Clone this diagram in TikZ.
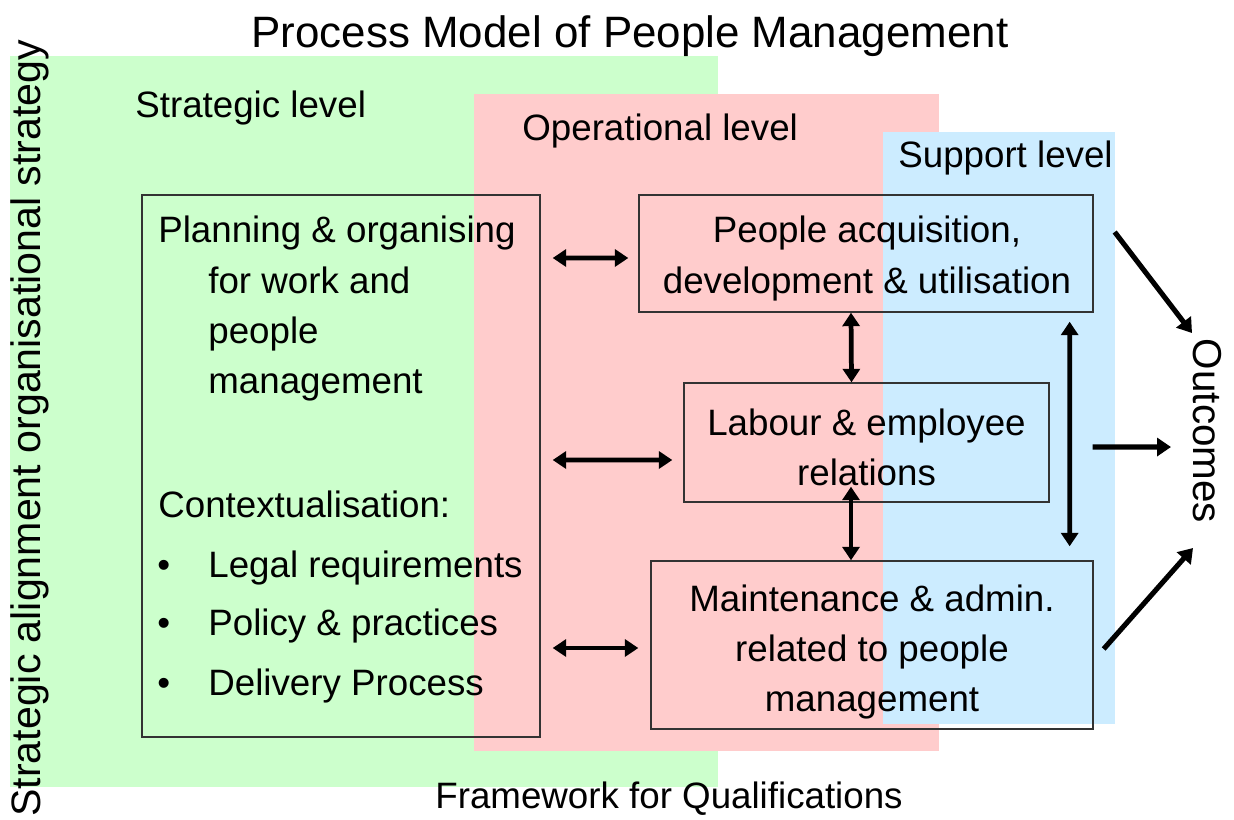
\documentclass[tikz,border=0pt]{standalone}
\usepackage{fontspec}
\setmainfont{Liberation Sans}
\usetikzlibrary{arrows.meta}
\definecolor{lvgreen}{HTML}{CCFFCC}
\definecolor{lvpink}{HTML}{FFCCCC}
\definecolor{lvblue}{HTML}{CCECFF}
\definecolor{boxline}{HTML}{333333}
\tikzset{
  lbl/.style={inner sep=0pt, anchor=base west, font=\fontsize{20.9}{28.5}\selectfont},
  procbox/.style={draw=boxline, line width=0.8pt, inner sep=0pt},
  boxtext/.style={align=center, inner sep=0pt, font=\fontsize{20.9}{28.5}\selectfont},
  dbl/.style={line width=2.7pt, {Triangle[length=0.27cm,width=0.34cm]}-{Triangle[length=0.27cm,width=0.34cm]}},
  sgl/.style={line width=2.9pt, -{Triangle[length=0.28cm,width=0.36cm]}}
}
\begin{document}
\begin{tikzpicture}[x=0.02cm,y=-0.02cm]
\useasboundingbox (0,0) rectangle (1234,819);
\fill[white] (0,0) rectangle (1234,819);
% level regions
\fill[lvgreen] (10,56) rectangle (718,787);
\fill[lvpink] (474,94) rectangle (939,751);
\fill[lvblue] (883,132) rectangle (1115,724);
% title and labels
\node[inner sep=0pt, anchor=base, font=\fontsize{25}{30}\selectfont] (title) at (630,47) {Process Model of People Management};
\node[lbl] (strat) at (135,117) {Strategic level};
\node[lbl] (oper) at (522,140) {Operational level};
\node[lbl] (supp) at (898,167) {Support level};
\node[lbl] (frame) at (435,808) {Framework for Qualifications};
\node[inner sep=0pt, anchor=base west, rotate=90, font=\fontsize{23.4}{28}\selectfont] (align) at (40,817) {Strategic alignment organisational strategy};
\node[inner sep=0pt, anchor=center, rotate=-90, font=\fontsize{23}{28}\selectfont] (O) at (1207,431) {Outcomes};
% left box
\node[procbox, minimum width=7.96cm, minimum height=10.84cm] (L) at (341,466) {};
\node[lbl] (l1) at (158,242) {Planning \& organising};
\node[lbl] (l2) at (208,293) {for work and};
\node[lbl] (l3) at (208,343) {people};
\node[lbl] (l4) at (208,393) {management};
\node[lbl] (l5) at (158,517) {Contextualisation:};
\node[lbl] (b1) at (157,577) {\textbullet};
\node[lbl] (l6) at (208,577) {Legal requirements};
\node[lbl] (b2) at (157,635) {\textbullet};
\node[lbl] (l7) at (208,635) {Policy \& practices};
\node[lbl] (b3) at (157,695) {\textbullet};
\node[lbl] (l8) at (208,695) {Delivery Process};
% right boxes
\node[procbox, minimum width=9.08cm, minimum height=2.34cm] (B1) at (866,253.5) {};
\node[procbox, minimum width=7.3cm, minimum height=2.38cm] (B2) at (866.5,442.5) {};
\node[procbox, minimum width=8.84cm, minimum height=3.36cm] (B3) at (872,645) {};
\node[boxtext] (t1) at ([shift={(1,5)}]B1.center) {People acquisition,\\development \& utilisation};
\node[boxtext] (t2) at ([shift={(0,5)}]B2.center) {Labour \& employee\\relations};
\node[boxtext] (t3) at ([shift={(0,7)}]B3.center) {Maintenance \& admin.\\related to people\\management};
% connectors
\draw[dbl] ([shift={(12,-208)}]L.east) -- ([shift={(-10,4.5)}]B1.west);
\draw[dbl] ([shift={(12,-6)}]L.east) -- ([shift={(-11,17.5)}]B2.west);
\draw[dbl] ([shift={(12,182)}]L.east) -- ([shift={(-12,3)}]B3.west);
\draw[dbl] ([shift={(-15,0)}]B1.south) -- ([shift={(-15,0)}]B2.north);
\draw[dbl] ([shift={(-15.5,-16)}]B2.south) -- ([shift={(-21,0)}]B3.north);
\draw[dbl] ([shift={(-24,9)}]B1.south east) -- ([shift={(-24,-14)}]B3.north east);
\draw[sgl] ([shift={(21,-21.5)}]B1.east) -- ([shift={(-15,-98)}]O.center);
\draw[sgl] ([shift={(10,4)}]B3.east) -- ([shift={(-14,117)}]O.center);
\draw[sgl] ([shift={(43,4.5)}]B2.east) -- ([shift={(-36,16)}]O.center);
\end{tikzpicture}
\end{document}
